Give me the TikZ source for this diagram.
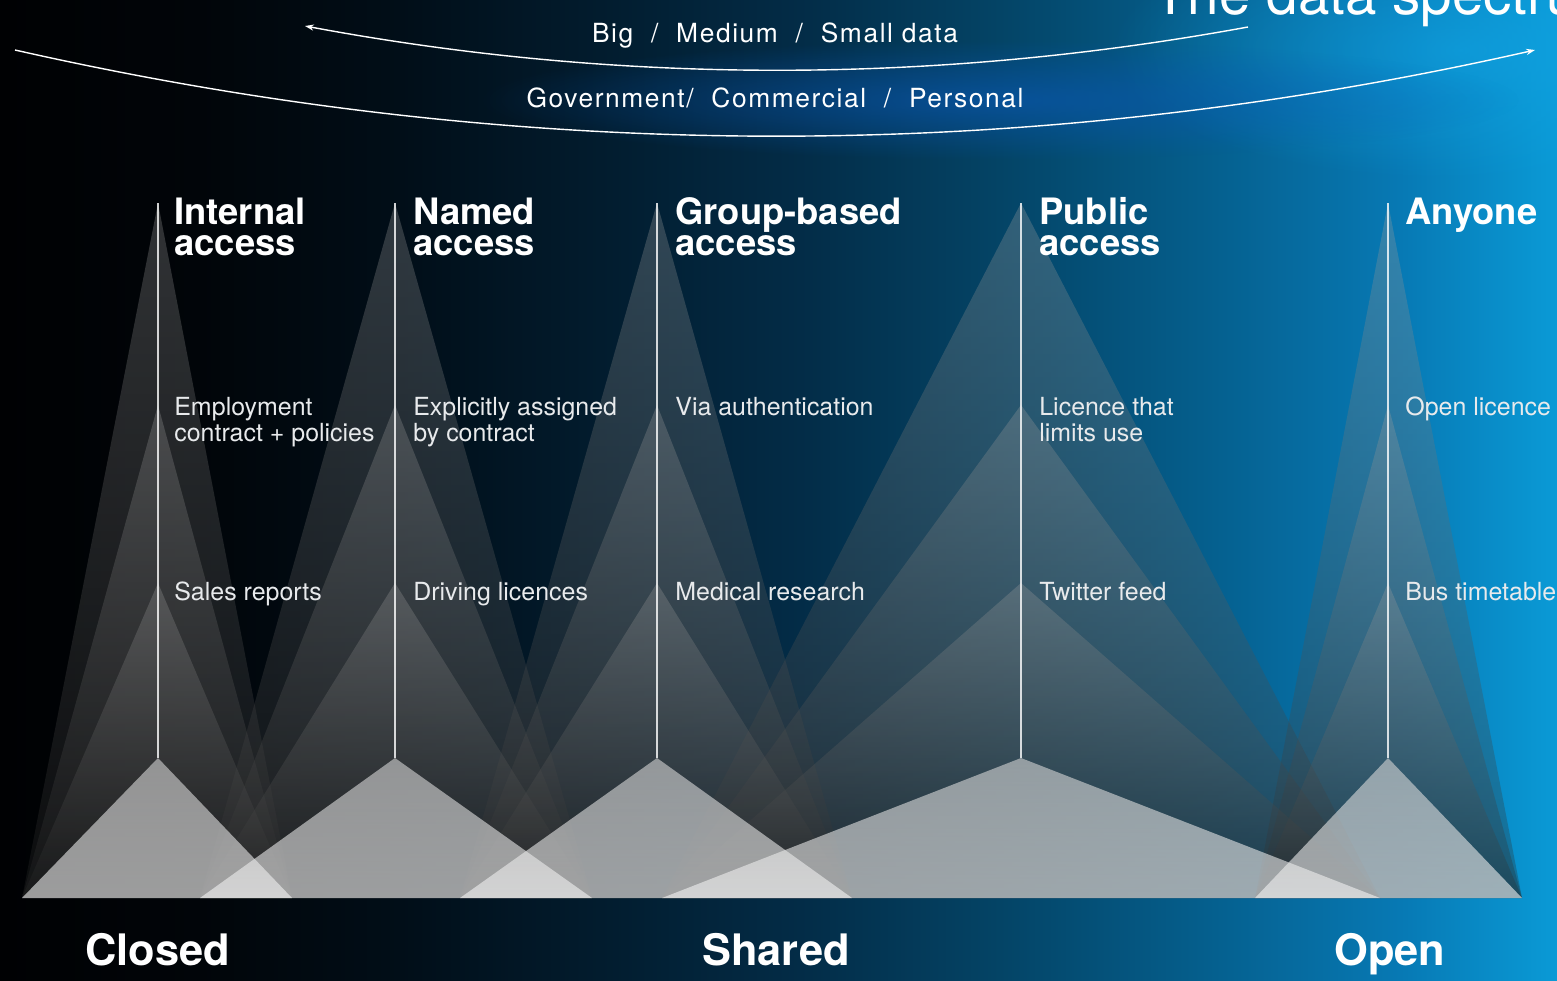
\documentclass[tikz,border=0pt]{standalone}
\usepackage{fontspec}
\setmainfont{TeX Gyre Heros}
\newfontfamily\arcfont[LetterSpace=6]{TeX Gyre Heros}
\usetikzlibrary{arrows.meta,fadings}
\definecolor{bg0}{HTML}{000103}
\definecolor{bg1}{HTML}{010509}
\definecolor{bg2}{HTML}{010E18}
\definecolor{bg3}{HTML}{021C2E}
\definecolor{bg4}{HTML}{032C47}
\definecolor{bg5}{HTML}{044466}
\definecolor{bg6}{HTML}{055E8C}
\definecolor{bg7}{HTML}{0779B4}
\definecolor{bg8}{HTML}{0A9AD6}
\definecolor{beamtop}{HTML}{A0A0A0}
\definecolor{beambot}{HTML}{262626}
\definecolor{brtop}{HTML}{D4D4D4}
\definecolor{brbot}{HTML}{F5F5F5}
\definecolor{glowblue}{HTML}{0A58B2}
\definecolor{glowcyan}{HTML}{12A6E6}
\definecolor{txtgray}{HTML}{E8EAEC}
\pgfdeclarehorizontalshading{bgshade}{100bp}{color(0bp)=(bg0); color(25bp)=(bg0); color(31.42bp)=(bg1); color(37.85bp)=(bg2); color(44.27bp)=(bg3); color(50.69bp)=(bg4); color(57.11bp)=(bg5); color(63.54bp)=(bg6); color(69.96bp)=(bg7); color(75bp)=(bg8); color(100bp)=(bg8)}
\tikzfading[name=glowfade, inner color=transparent!35, outer color=transparent!100]
\tikzfading[name=cyanfade, inner color=transparent!40, outer color=transparent!100]
\tikzset{
  beam/.style={top color=beamtop, bottom color=beambot, fill opacity=0.3},
  bright/.style={top color=brtop, bottom color=brbot, fill opacity=0.6},
  vline/.style={draw=white, draw opacity=0.8, line width=1.1pt},
  arcline/.style={draw=white, line width=0.8pt},
  head/.style={text=white, font=\fontsize{20.7}{17.6}\selectfont\bfseries, align=left, inner sep=0pt, anchor=north west},
  desc/.style={text=txtgray, font=\fontsize{14.2}{14.7}\selectfont, align=left, inner sep=0pt, anchor=north west},
  example/.style={text=txtgray, font=\fontsize{14.2}{14.7}\selectfont, inner sep=0pt, anchor=base west},
  arclabel/.style={text=white, font=\arcfont\fontsize{15}{18}\selectfont, inner sep=0pt, anchor=base},
  endlabel/.style={text=white, font=\fontsize{24.7}{30}\selectfont\bfseries, inner sep=0pt, anchor=base west},
  titlelabel/.style={text=white, font=\fontsize{32.2}{36}\selectfont, inner sep=0pt, anchor=base west}
}
\begin{document}
\begin{tikzpicture}[x=0.02cm, y=-0.02cm]
\useasboundingbox (0,0) rectangle (1557,980);
\clip (0,0) rectangle (1557,980);
\shade[shading=bgshade] (0,0) rectangle (1557,980);
\fill[glowcyan, path fading=cyanfade] (1460,50) ellipse [x radius=7cm, y radius=2.6cm];
\fill[glowblue, path fading=glowfade] (1000,100) ellipse [x radius=10.4cm, y radius=1.2cm];

\foreach \n/\x/\l/\r in {1/158/22/292, 2/395/200/592, 3/657/460/852, 4/1021/662/1380, 5/1388/1255/1522}{
  \coordinate (top\n) at (\x,203);
  \coordinate (mid\n) at (\x,405);
  \coordinate (low\n) at (\x,583);
  \coordinate (foot\n) at (\x,758);
  \coordinate (L\n) at (\l,898);
  \coordinate (R\n) at (\r,898);
}
\foreach \n in {1,...,5} \shade[beam] (top\n) -- (L\n) -- (R\n) -- cycle;
\foreach \n in {1,...,5} \shade[beam] (mid\n) -- (L\n) -- (R\n) -- cycle;
\foreach \n in {1,...,5} \shade[beam] (low\n) -- (L\n) -- (R\n) -- cycle;
\foreach \n in {1,...,5} \shade[bright] (foot\n) -- (L\n) -- (R\n) -- cycle;
\foreach \n in {1,...,5} \draw[vline] (top\n) -- (foot\n);

\coordinate (uA) at (1248,27);
\coordinate (uB) at (305,26);
\coordinate (lA) at (15,50);
\coordinate (lB) at (1535,50);
\draw[arcline, -{Stealth[length=5pt,width=3.5pt]}] (uA) .. controls (933.7,84.7) and (619.3,84.7) .. (uB);
\draw[arcline, -{Stealth[length=5pt,width=3.5pt]}] (lA) .. controls (521.7,164.7) and (1028.3,164.7) .. (lB);

\node[titlelabel] (title) at (1153,15) {The data spectrum};
\node[arclabel] (bigsmall) at (775,43) {Big\ \ /\ \ Medium\ \ /\ \ Small data};
\node[arclabel] (govt) at (775,108) {Government/\ \ Commercial\ \ /\ \ Personal};

\node[head] (h1) at (174,197.5) {Internal\\access};
\node[head] (h2) at (413,197.5) {Named\\access};
\node[head] (h3) at (675,197.5) {Group-based\\access};
\node[head] (h4) at (1039,197.5) {Public\\access};
\node[head] (h5) at (1405,197.5) {Anyone};

\node[desc] (d1) at (174,396.7) {Employment\\contract + policies};
\node[desc] (d2) at (413,396.7) {Explicitly assigned\\by contract};
\node[desc] (d3) at (675,396.7) {Via authentication};
\node[desc] (d4) at (1039,396.7) {Licence that\\limits use};
\node[desc] (d5) at (1405,396.7) {Open licence};

\node[example] (e1) at (174,600) {Sales reports};
\node[example] (e2) at (413,600) {Driving licences};
\node[example] (e3) at (675,600) {Medical research};
\node[example] (e4) at (1039,600) {Twitter feed};
\node[example] (e5) at (1405,600) {Bus timetable};

\node[endlabel] (closed) at (85,965) {Closed};
\node[endlabel] (shared) at (702,965) {Shared};
\node[endlabel] (open) at (1334,965) {Open};
\end{tikzpicture}
\end{document}
